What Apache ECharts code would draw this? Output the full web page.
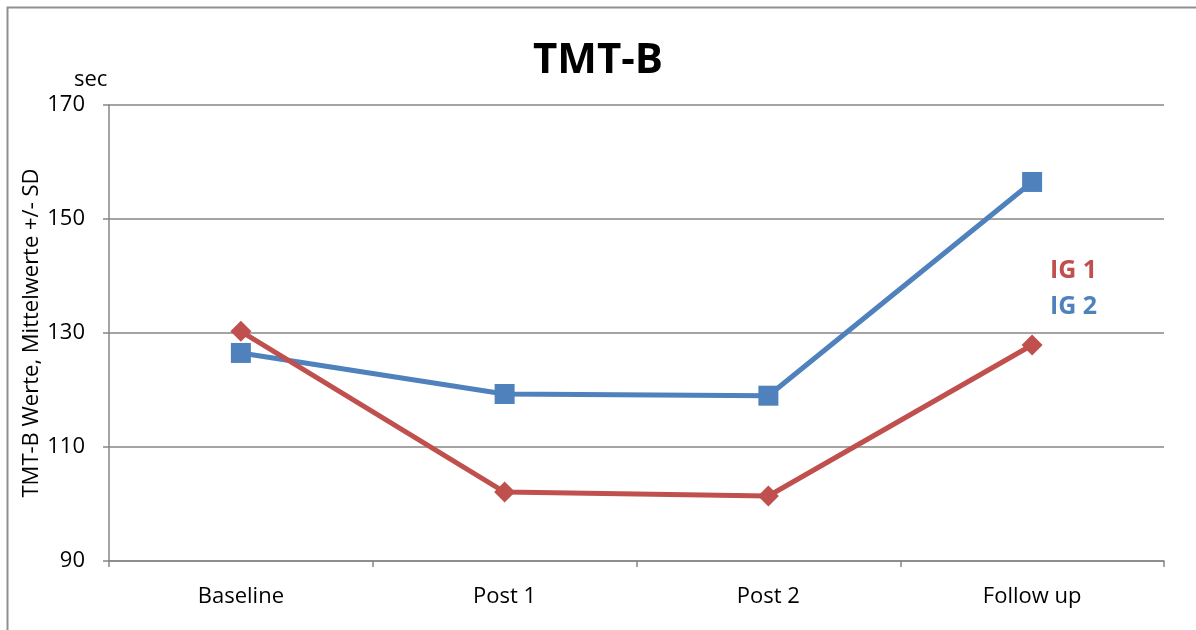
<!DOCTYPE html>
<html>
<head>
<meta charset="utf-8">
<script src="https://cdn.jsdelivr.net/npm/echarts@6/dist/echarts.min.js"></script>
<style>html,body{margin:0;padding:0;background:#fff}#c{width:1196px;height:630px}</style>
</head>
<body>
<div id="c"></div>
<script>
const categories = ['Baseline', 'Post 1', 'Post 2', 'Follow up'];
const ig1 = [130.3, 102.1, 101.4, 127.9];
const ig2 = [126.5, 119.3, 119.0, 156.5];
const yTicks = [90, 110, 130, 150, 170];

const RED = '#C0504D', BLUE = '#4F81BD', GRID = '#868686';
const FONT = '"Open Sans", "Noto Sans", sans-serif';

const chart = echarts.init(document.getElementById('c'));
chart.setOption({
  animation: false,
  backgroundColor: '#fff',
  title: {
    text: 'TMT-B', left: 'center', top: 35,
    textStyle: { fontFamily: FONT, fontSize: 42, fontWeight: 'bold', color: '#000' }
  },
  grid: { left: 109, right: 32, top: 105, bottom: 69 },
  xAxis: {
    type: 'category', data: categories, boundaryGap: true,
    axisLine: { lineStyle: { color: GRID, width: 1.5 } },
    axisTick: { show: true, length: 6, lineStyle: { color: GRID, width: 1.5 } },
    axisLabel: { fontFamily: FONT, fontSize: 22, color: '#000', margin: 25 }
  },
  yAxis: {
    type: 'value', min: yTicks[0], max: yTicks[yTicks.length - 1], interval: 20,
    name: 'TMT-B Werte, Mittelwerte +/- SD', nameLocation: 'middle', nameGap: 66,
    nameMoveOverlap: false,
    nameTextStyle: { fontFamily: FONT, fontSize: 22, color: '#000' },
    axisLine: { show: true, lineStyle: { color: GRID, width: 1.5 } },
    axisTick: { show: true, length: 6, lineStyle: { color: GRID, width: 1.5 } },
    splitLine: { show: true, lineStyle: { color: GRID, width: 1.5 } },
    axisLabel: { fontFamily: FONT, fontSize: 22, color: '#000', margin: 24 }
  },
  series: [
    {
      name: 'IG 2', type: 'line', data: ig2, symbol: 'rect', symbolSize: 20,
      lineStyle: { color: BLUE, width: 5 }, itemStyle: { color: BLUE }
    },
    {
      name: 'IG 1', type: 'line', data: ig1, symbol: 'diamond', symbolSize: [21, 21],
      lineStyle: { color: RED, width: 5 }, itemStyle: { color: RED }
    }
  ],
  graphic: [
    { type: 'rect', shape: { x: 7.5, y: 7.5, width: 1300, height: 800 },
      style: { fill: null, stroke: '#8f8f8f', lineWidth: 2 }, silent: true, z: -1 },
    { type: 'text', left: 74, top: 69,
      style: { text: 'sec', fontFamily: FONT, fontSize: 22, fill: '#000' } },
    { type: 'text', left: 1050, top: 258,
      style: { text: 'IG 1', fontFamily: FONT, fontSize: 25, fontWeight: 'bold', fill: RED } },
    { type: 'text', left: 1050, top: 294,
      style: { text: 'IG 2', fontFamily: FONT, fontSize: 25, fontWeight: 'bold', fill: BLUE } }
  ]
});
</script>
</body>
</html>
